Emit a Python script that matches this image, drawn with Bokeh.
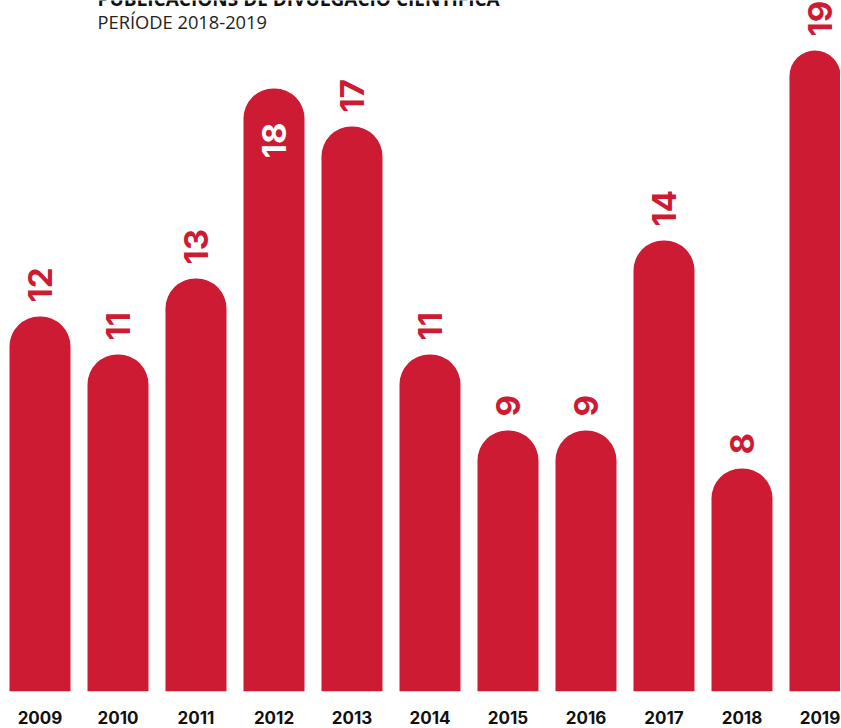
import numpy as np
from bokeh.plotting import figure
from bokeh.models import ColumnDataSource, Range1d, FixedTicker, Label
from bokeh.embed import file_html
from bokeh.resources import INLINE
from bokeh.core.properties import value

# ---- data ----
years = ["2009", "2010", "2011", "2012", "2013", "2014", "2015", "2016", "2017", "2018", "2019"]
counts = [12, 11, 13, 18, 17, 11, 9, 9, 14, 8, 19]
inside_years = ["2012"]  # value label drawn inside the bar
title = "PUBLICACIONS DE DIVULGACIÓ CIENTÍFICA"
subtitle = "PERÍODE 2018-2019"

RED = "#cc1b32"
FONT = "Open Sans"
NUM_FONT = "Inter"

idx = list(range(len(years)))
src = ColumnDataSource(dict(x=idx, top=counts, year=years))

out_x = [i for i, y in zip(idx, years) if y not in inside_years]
out_v = [c for c, y in zip(counts, years) if y not in inside_years]
in_x = [i for i, y in zip(idx, years) if y in inside_years]
in_v = [c for c, y in zip(counts, years) if y in inside_years]
src_out = ColumnDataSource(dict(x=out_x, y=out_v, t=[str(v) for v in out_v]))
src_in = ColumnDataSource(dict(x=in_x, y=in_v, t=[str(v) for v in in_v]))

p = figure(width=840, height=727, output_backend="svg", toolbar_location=None,
           x_range=Range1d(-0.5064, 10.263), y_range=Range1d(2.13, 20.316),
           y_axis_location=None,
           min_border_left=0, min_border_right=0, min_border_top=0, min_border_bottom=36)
p.outline_line_color = None
p.grid.visible = False
p.background_fill_color = "white"
p.border_fill_color = "white"

p.vbar(x="x", top="top", bottom=0, width=0.782, source=src,
       fill_color=RED, line_color=None, border_radius=(30, 30, 0, 0))

p.text(x="x", y="y", text="t", source=src_out, angle=np.pi / 2,
       text_align="left", text_baseline="middle", y_offset=-14,
       text_font=value(NUM_FONT), text_font_style="bold", text_font_size="33px",
       text_color=RED)
p.text(x="x", y="y", text="t", source=src_in, angle=np.pi / 2,
       text_align="right", text_baseline="middle", y_offset=34,
       text_font=value(NUM_FONT), text_font_style="bold", text_font_size="33px",
       text_color="white")

ax = p.xaxis[0]
ax.ticker = FixedTicker(ticks=idx)
ax.major_label_overrides = {i: y for i, y in zip(idx, years)}
ax.axis_line_color = None
ax.major_tick_line_color = None
ax.minor_tick_line_color = None
ax.major_tick_out = 0
ax.major_tick_in = 0
ax.major_label_standoff = 19
ax.major_label_text_font = NUM_FONT
ax.major_label_text_font_style = "bold"
ax.major_label_text_font_size = "17px"
ax.major_label_text_color = "#111111"

p.add_layout(Label(x=97, y=692.5, x_units="screen", y_units="screen", text=title,
                   text_font=FONT, text_font_style="bold", text_font_size="19px",
                   text_color="#111111", text_baseline="alphabetic"))
p.add_layout(Label(x=97, y=670.3, x_units="screen", y_units="screen", text=subtitle,
                   text_font=FONT, text_font_style="normal", text_font_size="18.3px",
                   text_color="#222222", text_baseline="alphabetic"))

open("out.html", "w").write(file_html(p, INLINE))
